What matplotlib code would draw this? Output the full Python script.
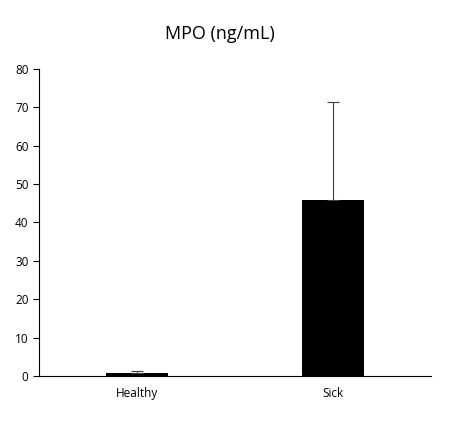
import matplotlib
matplotlib.use("Agg")
import matplotlib.pyplot as plt

categories = ["Healthy", "Sick"]
values = [0.8, 45.8]
errors = [0.5, 25.5]
yticks = [0, 10, 20, 30, 40, 50, 60, 70, 80]

plt.rcParams['font.family'] = ['Open Sans', 'DejaVu Sans']
fig = plt.figure(figsize=(4.5, 4.21), dpi=100)
ax = fig.add_axes([0.0867, 0.107, 0.871, 0.729])
x = range(len(categories))
ax.bar(x, values, width=0.316, color="black",
       yerr=[[0]*len(errors), errors], ecolor="#404040",
       error_kw=dict(elinewidth=0.8, capsize=4, capthick=0.8))
ax.set_xlim(-0.5, 1.5)
ax.set_ylim(0, 80)
ax.set_yticks(yticks)
ax.set_xticks(list(x))
ax.set_xticklabels(categories)
ax.tick_params(axis='x', length=0, labelsize=8.5, pad=8)
ax.tick_params(axis='y', direction='out', length=4, labelsize=8.5, width=0.8)
for s in ["top", "right"]:
    ax.spines[s].set_visible(False)
for s in ["left", "bottom"]:
    ax.spines[s].set_linewidth(0.8)
fig.text(0.488, 0.92, "MPO (ng/mL)", ha="center", va="center", fontsize=13)
fig.savefig("out.png", dpi=100)
